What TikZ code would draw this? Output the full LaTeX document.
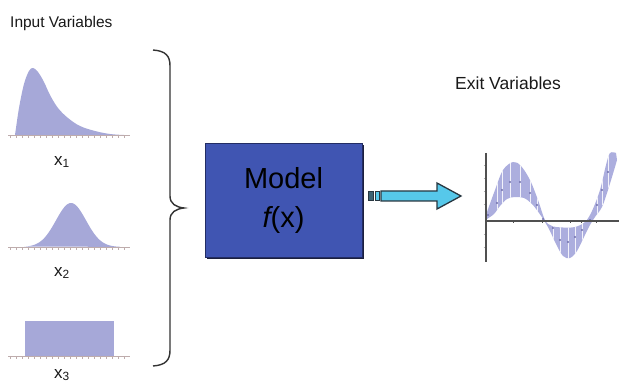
\documentclass[tikz,border=0pt]{standalone}
\usepackage{fontspec}
\setmainfont{Liberation Sans}
\usetikzlibrary{shadows}
\definecolor{distc}{RGB}{166,168,216}
\definecolor{bandc}{RGB}{172,174,222}
\definecolor{dotc}{RGB}{112,112,172}
\definecolor{axc}{RGB}{190,172,172}
\definecolor{modelc}{RGB}{64,85,178}
\definecolor{modelborder}{RGB}{35,45,100}
\definecolor{shadowc}{RGB}{28,32,62}
\definecolor{cyanc}{RGB}{86,200,234}
\definecolor{arrowborder}{RGB}{40,55,65}
\definecolor{blockc}{RGB}{60,98,115}
\definecolor{txtc}{RGB}{25,25,25}
\definecolor{gaxc}{RGB}{80,80,80}
\begin{document}
\begin{tikzpicture}[x=1pt,y=-1pt,
  distfill/.style={fill=distc,draw=none},
  axisline/.style={draw=axc,line width=0.9pt},
  tickline/.style={draw=axc,line width=0.5pt},
  varlbl/.style={inner sep=0pt,text=txtc,font=\fontsize{17}{20}\selectfont},
  titlelbl/.style={inner sep=0pt,text=txtc,anchor=base west},
  modelbox/.style={draw=modelborder,line width=0.8pt,fill=modelc,
    minimum width=157pt,minimum height=114pt,inner sep=0pt,align=center,
    text=black,font=\fontsize{29}{41}\selectfont,
    drop shadow={shadow xshift=1.5pt,shadow yshift=-2.5pt,fill=shadowc,opacity=1}},
  bracestyle/.style={draw=black!80,line width=1.4pt},
  arrowstyle/.style={draw=arrowborder,line width=1.3pt,fill=cyanc,line join=miter},
  gaxis/.style={draw=gaxc,line width=1.3pt}]
\useasboundingbox (0,0) rectangle (619,382);

% titles
\node[titlelbl,font=\fontsize{15.5}{18}\selectfont] (tin) at (10,28) {Input Variables};
\node[titlelbl,font=\fontsize{17.5}{20}\selectfont] (tout) at (455,90) {Exit Variables};

% distribution 1 (skewed)
\fill[distfill] plot[smooth,tension=0.6] coordinates {(15,135) (19,108) (24,84) (29,71) (33,68) (38,72) (44,82) (50,95) (58,108) (68,118) (80,126) (95,131) (110,134) (124,135)} -- cycle;
\draw[axisline] (8,135.5) -- (130,135.5);
\foreach \t in {10,16,...,128} \draw[tickline] (\t,135.5) -- (\t,138);
\node[varlbl] (x1) at (62,162) {x\textsubscript{1}};

% distribution 2 (gaussian)
\fill[distfill] plot[domain=24:120,samples=80] (\x,{247-44*exp(-((\x-71)*(\x-71))/450)}) -- cycle;
\draw[axisline] (8,247.5) -- (130,247.5);
\foreach \t in {10,16,...,128} \draw[tickline] (\t,247.5) -- (\t,250);
\node[varlbl] (x2) at (62,273) {x\textsubscript{2}};

% distribution 3 (uniform)
\fill[distfill] (25,321) rectangle (114,355.5);
\draw[axisline] (8,356) -- (130,356);
\foreach \t in {10,16,...,128} \draw[tickline] (\t,356) -- (\t,358.5);
\node[varlbl] (x3) at (62,375) {x\textsubscript{3}};

% brace
\coordinate (btop) at (153,50);
\coordinate (btip) at (184,208);
\coordinate (bbot) at (153,366);
\draw[bracestyle] (btop) .. controls (166,51) and (170,56) .. (170,66) -- (170,196)
  .. controls (170,204) and (176,207) .. (btip)
  .. controls (176,209) and (170,212) .. (170,220) -- (170,350)
  .. controls (170,360) and (166,365) .. (bbot);

% model box
\node[modelbox] (model) at (283.5,200) {Model\\[-2pt]{\itshape f}(x)};

% arrow
\coordinate (atail) at (381,196);
\coordinate (atip) at (461,196);
\fill[blockc,draw=arrowborder,line width=1pt] (368,191.5) rectangle (373,200.5);
\filldraw[fill=cyanc,draw=arrowborder,line width=1pt] (375,191.5) rectangle (379.5,200.5);
\draw[arrowstyle] (381,191) -- (437,191) -- (437,183) -- (atip) -- (437,209) -- (437,201) -- (381,201) -- cycle;

% exit graph band
\def\bandpath{plot[smooth,tension=0.55] coordinates {(487,212) (495,190) (503,170) (513,162) (521,166) (530,180) (538,200) (545,220) (552,226) (563,227.5) (575,227) (585,222) (592,211) (600,190) (606,165) (610,153) (616,153)}
  -- (617,160) -- plot[smooth,tension=0.55] coordinates {(615,167) (608,190) (602,207) (595,217) (590,225) (584,237) (577,251) (570,258) (563,256) (556,244) (550,231) (545,222) (539,213) (532,204) (524,198) (515,197) (507,199) (500,206) (494,214) (487,219)} -- cycle}
\fill[bandc] \bandpath;
\begin{scope}
  \clip \bandpath;
  \foreach \sx in {497,502,510,520,530,537,553,560,568,575,582,597,602,608}
    \draw[white,line width=0.9pt,opacity=0.85] (\sx,150) -- (\sx,265);
\end{scope}
\foreach \dx/\dy in {488/215,497/203,502/190,510/182,520/182,530/193,537/205,543/219,553/228,560/240,568/242,575/237,582/230,590/220,597/205,602/190,608/172}
  \fill[dotc] (\dx,\dy) circle (1.2);

% exit graph axes
\coordinate (yatop) at (486,153);
\coordinate (yabot) at (486,262);
\coordinate (xaleft) at (486,221);
\coordinate (xaright) at (619,221);
\foreach \ty in {165,178,191,204,234,247}
  \draw[black!30,line width=0.6pt] (483.5,\ty) -- (486,\ty);
\draw[gaxis] (yatop) -- (yabot);
\draw[gaxis] (xaleft) -- (xaright);
\foreach \tx in {513,542,570,581,596}
  \draw[gaxc,line width=0.8pt] (\tx,221) -- (\tx,223.5);
\end{tikzpicture}
\end{document}
